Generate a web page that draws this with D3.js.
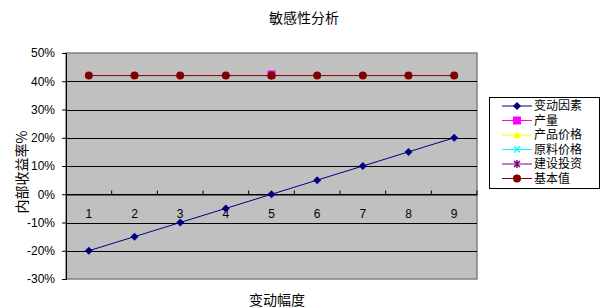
<!DOCTYPE html>
<html><head><meta charset="utf-8">
<script src="https://cdn.jsdelivr.net/npm/d3@7"></script>
<style>body{margin:0;background:#fff}svg{display:block}text{font-family:"Noto Sans CJK SC","Noto Sans",sans-serif}</style>
</head><body><svg id="c" width="602" height="308"></svg>
<script>
const categories = ["1","2","3","4","5","6","7","8","9"];
const changeFactor = [-0.20,-0.15,-0.10,-0.05,0.00,0.05,0.10,0.15,0.20];
const output = [null,null,null,null,0.424,null,null,null,null];
const productPrice = [null,null,null,null,0.42,null,null,null,null];
const materialPrice = [null,null,null,null,0.42,null,null,null,null];
const investment = [null,null,null,null,0.42,null,null,null,null];
const baseValue = [0.42,0.42,0.42,0.42,0.42,0.42,0.42,0.42,0.42];
const yTicks = [-0.3,-0.2,-0.1,0,0.1,0.2,0.3,0.4,0.5];
const seriesNames = ["变动因素","产量","产品价格","原料价格","建设投资","基本值"];

const series = [
  {name:seriesNames[0], values:changeFactor, color:"#000080", marker:"diamond"},
  {name:seriesNames[1], values:output, color:"#FF00FF", marker:"square"},
  {name:seriesNames[2], values:productPrice, color:"#FFFF00", marker:"triangle"},
  {name:seriesNames[3], values:materialPrice, color:"#00FFFF", marker:"x"},
  {name:seriesNames[4], values:investment, color:"#800080", marker:"star"},
  {name:seriesNames[5], values:baseValue, color:"#800000", marker:"circle"}
];

const svg = d3.select("#c");
const L=66, R=477, T=53, B=279;
const x = d3.scaleBand().domain(categories).range([L,R]);
const y = d3.scaleLinear().domain([-0.3,0.5]).range([B,T]);

svg.append("rect").attr("x",L).attr("y",T).attr("width",R-L).attr("height",B-T)
  .attr("fill","#C0C0C0").attr("stroke","#808080").attr("stroke-width",1.5);

svg.append("g").selectAll("line").data(yTicks.filter(d=>d>-0.3&&d<0.5)).join("line")
  .attr("x1",L).attr("x2",R).attr("y1",d=>Math.round(y(d))+0.5).attr("y2",d=>Math.round(y(d))+0.5)
  .attr("stroke","#000").attr("stroke-width",1);

const yAxis = d3.axisLeft(y).tickValues(yTicks).tickSize(4).tickFormat(d=>Math.round(d*100)+"%");
const ya = svg.append("g").attr("transform",`translate(${L},0)`).call(yAxis);
ya.select(".domain").attr("stroke","#000");
ya.selectAll("text").attr("font-size",12).attr("fill","#000").attr("x",-11)
  .style("font-family","'Liberation Sans',Arial,sans-serif");
ya.selectAll(".tick line").attr("stroke","#000");

const y0 = Math.round(y(0))+0.5;
const xAxis = d3.axisTop(x).tickSize(4).tickSizeOuter(0);
const xa = svg.append("g").attr("transform",`translate(0,${y0})`).call(xAxis);
xa.select(".domain").attr("stroke","#000");
xa.selectAll(".tick line").attr("stroke","#000").attr("transform",`translate(${x.bandwidth()/2},0)`);
xa.selectAll(".tick text").attr("y",19).attr("dy","0.35em").attr("font-size",12).attr("fill","#000")
  .style("font-family","'Liberation Sans',Arial,sans-serif");

const cx = (i)=>x(categories[i])+x.bandwidth()/2;
function drawMarker(g, type, color, px, py){
  if(type==="diamond") g.append("path").attr("d",`M${px},${py-4}L${px+4},${py}L${px},${py+4}L${px-4},${py}Z`).attr("fill",color);
  else if(type==="square") g.append("rect").attr("x",px-4).attr("y",py-4).attr("width",8).attr("height",8).attr("fill",color);
  else if(type==="triangle") g.append("path").attr("d",`M${px},${py-4}L${px+4},${py+3}L${px-4},${py+3}Z`).attr("fill",color);
  else if(type==="x") g.append("path").attr("d",`M${px-3},${py-3}L${px+3},${py+3}M${px+3},${py-3}L${px-3},${py+3}`).attr("stroke",color).attr("stroke-width",1.5);
  else if(type==="star") g.append("path").attr("d",`M${px-3},${py-3}L${px+3},${py+3}M${px+3},${py-3}L${px-3},${py+3}M${px},${py-4}L${px},${py+4}`).attr("stroke",color).attr("stroke-width",1.5);
  else if(type==="circle") g.append("circle").attr("cx",px).attr("cy",py).attr("r",4).attr("fill",color);
}

const line = d3.line().defined(d=>d.v!=null).x(d=>cx(d.i)).y(d=>y(d.v));
series.forEach(s=>{
  const g = svg.append("g");
  const pts = s.values.map((v,i)=>({v,i}));
  g.append("path").attr("d",line(pts)).attr("fill","none").attr("stroke",s.color).attr("stroke-width",1);
  pts.filter(p=>p.v!=null).forEach(p=>drawMarker(g,s.marker,s.color,cx(p.i),y(p.v)));
});

const lg = svg.append("g");
lg.append("rect").attr("x",489.5).attr("y",97.5).attr("width",110).attr("height",91).attr("fill","#fff").attr("stroke","#000");
series.forEach((s,i)=>{
  const yy = 106 + i*14.5;
  lg.append("line").attr("x1",502).attr("x2",532).attr("y1",yy).attr("y2",yy).attr("stroke",s.color);
  drawMarker(lg,s.marker,s.color,517,yy);
  lg.append("text").attr("x",534).attr("y",yy).attr("dy","0.36em").attr("font-size",12).text(s.name);
});

svg.append("text").attr("x",304).attr("y",18).attr("dy","0.35em").attr("text-anchor","middle").attr("font-size",14).text("敏感性分析");
svg.append("text").attr("x",277).attr("y",300).attr("dy","0.35em").attr("text-anchor","middle").attr("font-size",14).text("变动幅度");
svg.append("text").attr("transform","translate(22,172) rotate(-90)").attr("dy","0.35em").attr("text-anchor","middle").attr("font-size",14).text("内部收益率%");
</script></body></html>
